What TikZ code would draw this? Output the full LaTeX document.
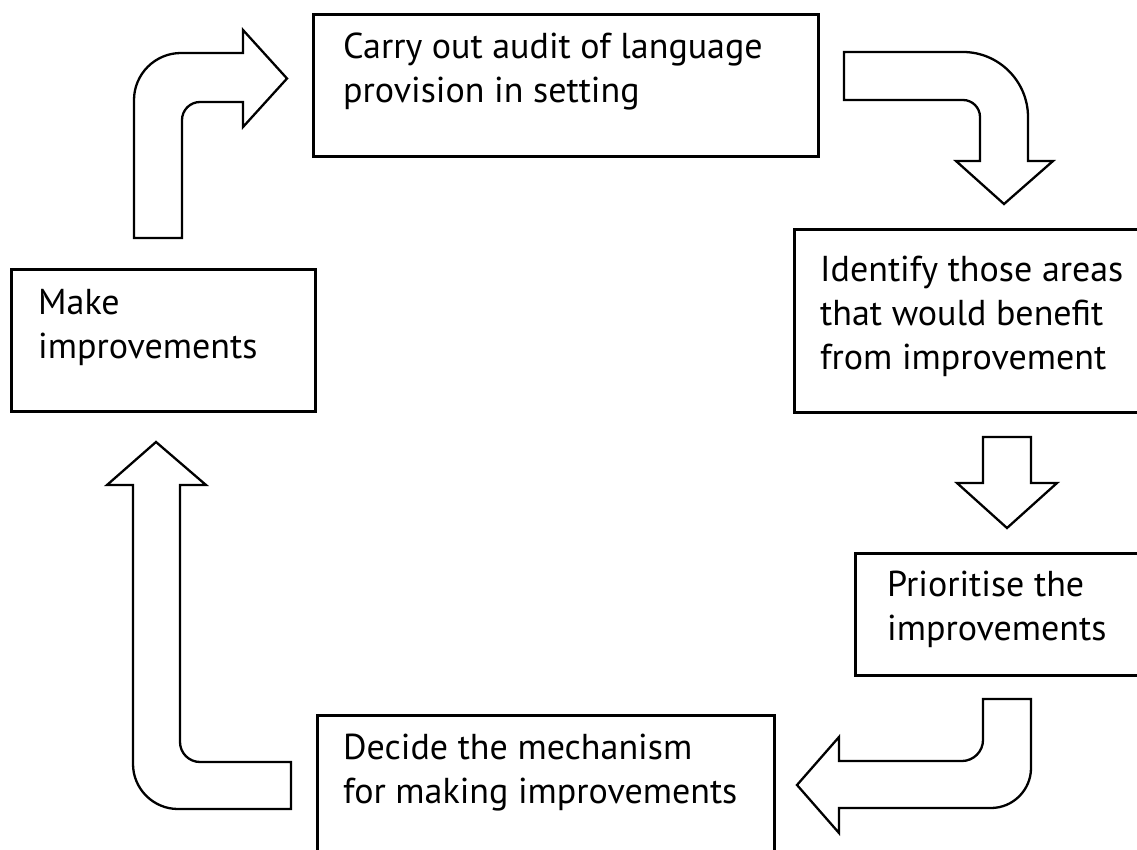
\documentclass[tikz,border=0pt]{standalone}
\usepackage{fontspec}
\setmainfont{PT Sans}
\begin{document}
\begin{tikzpicture}[x=1pt,y=-1pt,
  box/.style={draw=black,line width=2.6pt,rectangle,inner sep=0pt,anchor=north west},
  lbl/.style={anchor=base west,align=left,inner sep=0pt,font=\fontsize{36}{44}\selectfont},
  blockarrow/.style={draw=black,line width=2.3pt,fill=white,line join=miter}]
\useasboundingbox (0,0) rectangle (1137,850);
\clip (0,0) rectangle (1137,850);
% boxes
\node[box,minimum width=505pt,minimum height=142pt] (carry) at (312,13) {};
\node[box,minimum width=357pt,minimum height=183pt] (ident) at (793,228) {};
\node[box,minimum width=296pt,minimum height=122pt] (prior) at (854,552) {};
\node[box,minimum width=457pt,minimum height=156pt] (decide) at (316,714) {};
\node[box,minimum width=304pt,minimum height=142pt] (make) at (10,268) {};
% labels (anchored at the baseline of the last line)
\node[lbl] (carryT) at (343,103) {Carry out audit of language\\provision in setting};
\node[lbl] (identT) at (820,369) {Identify those areas\\that would benefit\\from improvement};
\node[lbl] (priorT) at (887,640) {Prioritise the\\improvements};
\node[lbl] (decideT) at (343,803) {Decide the mechanism\\for making improvements};
\node[lbl] (makeT) at (38,358) {Make\\improvements};
% arrow 1: make -> carry
\draw[blockarrow] (134,238) -- (134,100) .. controls (134,74.1) and (155.1,53) .. (181,53)
  -- (243,53) -- (243,30) -- (287,78.5) -- (243,127) -- (243,102) -- (200,102)
  .. controls (190.1,102) and (182,110.1) .. (182,120) -- (182,238) -- cycle;
% arrow 2: carry -> ident
\draw[blockarrow] (844,52) -- (963,52) .. controls (998.75,52) and (1028,81.25) .. (1028,117)
  -- (1028,161) -- (1053,161) -- (1004,204) -- (956,161) -- (980,161) -- (980,117)
  .. controls (980,107.65) and (972.35,100) .. (963,100) -- (844,100) -- cycle;
% arrow 3: ident -> prior
\draw[blockarrow] (983,437) -- (1031,437) -- (1031,483) -- (1057,483) -- (1007,528)
  -- (957,483) -- (983,483) -- cycle;
% arrow 4: prior -> decide
\draw[blockarrow] (983,699) -- (1031,699) -- (1031,768) .. controls (1031,790) and (1013,808) .. (991,808)
  -- (839,808) -- (839,833) -- (797,785) -- (839,737) -- (839,761) -- (962,761)
  .. controls (973.5,761) and (983,751.5) .. (983,740) -- cycle;
% arrow 5: decide -> make
\draw[blockarrow] (156,442) -- (206,485) -- (180,485) -- (180,742)
  .. controls (180,753) and (189,762) .. (200,762) -- (291,762) -- (291,809) -- (178,809)
  .. controls (153.25,809) and (133,788.75) .. (133,764) -- (133,485) -- (107,485) -- cycle;
\end{tikzpicture}
\end{document}
